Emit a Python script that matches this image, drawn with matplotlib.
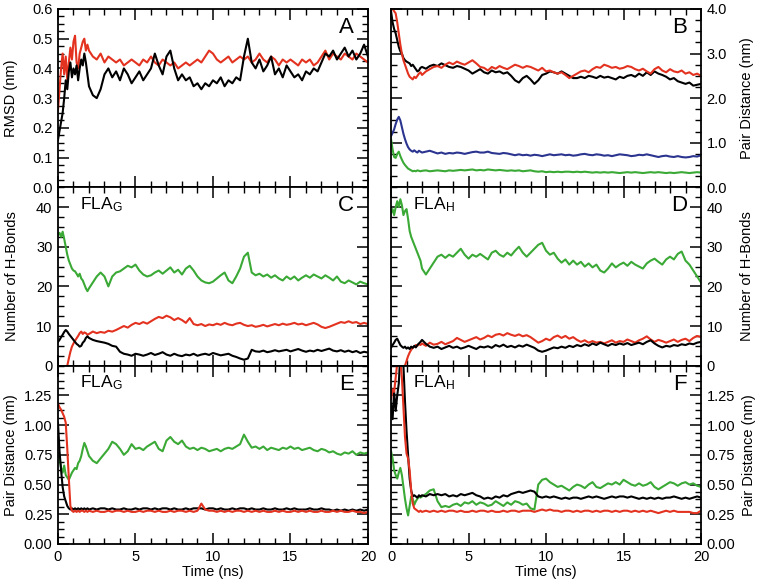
import numpy as np
import matplotlib
matplotlib.use('Agg')
import matplotlib.pyplot as plt
from matplotlib.ticker import MultipleLocator, FormatStrFormatter

plt.rcParams['font.family'] = ['Liberation Sans', 'DejaVu Sans']
plt.rcParams['font.size'] = 10

# ============================================
# DATOS
# ============================================

# eje de tiempo: 0-1.9 ns cada 0.1, 2-20 ns cada 0.25
time_ns = np.concatenate([np.round(np.arange(0, 2.0, 0.1), 2),
                          np.arange(2.0, 20.001, 0.25)])
nan = np.nan

# Panel A: RMSD (nm)
rmsd_black = [0.16, 0.19, 0.22, 0.25, 0.30, 0.36, 0.33, 0.39, 0.42, 0.37,
              0.40, 0.38, 0.41, 0.36, 0.40, 0.43, 0.41, 0.45, 0.42, 0.38,
              0.34, 0.31, 0.30, 0.33,
              0.38, 0.40, 0.37, 0.39,
              0.36, 0.40, 0.38, 0.35,
              0.37, 0.39, 0.36, 0.38,
              0.40, 0.45, 0.41, 0.38,
              0.44, 0.46, 0.40, 0.36,
              0.38, 0.36, 0.37, 0.34,
              0.35, 0.33, 0.35, 0.34,
              0.36, 0.35, 0.37, 0.34,
              0.36, 0.35, 0.37, 0.36,
              0.44, 0.50, 0.42, 0.40,
              0.43, 0.39, 0.41, 0.44,
              0.38, 0.40, 0.37, 0.41,
              0.39, 0.37, 0.38, 0.36,
              0.39, 0.38, 0.40, 0.39,
              0.42, 0.45, 0.44, 0.46,
              0.43, 0.45, 0.47, 0.44,
              0.46, 0.43, 0.45, 0.48,
              0.44]
rmsd_red = [0.26, 0.33, 0.40, 0.45, 0.38, 0.44, 0.36, 0.42, 0.47, 0.43,
            0.49, 0.51, 0.42, 0.40, 0.45, 0.47, 0.49, 0.50, 0.46, 0.48,
            0.46, 0.44, 0.43, 0.45,
            0.42, 0.44, 0.43, 0.42,
            0.43, 0.41, 0.42, 0.43,
            0.42, 0.41, 0.43, 0.42,
            0.44, 0.42, 0.41, 0.43,
            0.42, 0.41, 0.42, 0.40,
            0.41, 0.42, 0.41, 0.42,
            0.43, 0.42, 0.44, 0.46,
            0.45, 0.43, 0.42, 0.43,
            0.44, 0.42, 0.43, 0.44,
            0.43, 0.44, 0.42, 0.43,
            0.45, 0.43, 0.42, 0.44,
            0.43, 0.41, 0.43, 0.42,
            0.43, 0.42, 0.41, 0.43,
            0.42, 0.43, 0.41, 0.42,
            0.44, 0.46, 0.43, 0.45,
            0.44, 0.43, 0.45, 0.44,
            0.43, 0.45, 0.44, 0.43,
            0.42]

# Panel B: distancia de pares (nm)
distB_black = [3.95, 3.70, 3.55, 3.45, 3.30, 3.15, 3.05, 3.00, 2.90, 2.85,
               2.82, 2.80, 2.78, 2.72, 2.75, 2.70, 2.65, 2.60, 2.62, 2.68,
               2.70, 2.66, 2.72, 2.75,
               2.72, 2.78, 2.74, 2.70,
               2.68, 2.72, 2.70, 2.66,
               2.62, 2.55, 2.60, 2.65,
               2.58, 2.55, 2.62, 2.58,
               2.60, 2.55, 2.58, 2.50,
               2.40, 2.35, 2.45, 2.50,
               2.42, 2.32, 2.40, 2.52,
               2.55, 2.60, 2.58, 2.55,
               2.60, 2.55, 2.50, 2.45,
               2.45, 2.48, 2.45, 2.50,
               2.48, 2.45, 2.50, 2.46,
               2.48, 2.45, 2.42, 2.48,
               2.45, 2.50, 2.52, 2.48,
               2.55, 2.50, 2.58, 2.52,
               2.60, 2.55, 2.52, 2.48,
               2.42, 2.45, 2.38, 2.35,
               2.32, 2.35, 2.28, 2.30,
               2.32]
distB_red = [4.05, 4.00, 3.95, 3.90, 3.70, 3.45, 3.20, 3.00, 2.85, 2.75,
             2.65, 2.55, 2.48, 2.45, 2.42, 2.48, 2.45, 2.50, 2.55, 2.58,
             2.52, 2.60, 2.65, 2.70,
             2.72, 2.68, 2.75, 2.80,
             2.76, 2.82, 2.78, 2.75,
             2.80, 2.85, 2.78, 2.70,
             2.68, 2.62, 2.70, 2.66,
             2.72, 2.68, 2.65, 2.70,
             2.75, 2.72, 2.68, 2.72,
             2.70, 2.66, 2.62, 2.68,
             2.60, 2.62, 2.58, 2.55,
             2.58, 2.52, 2.45, 2.50,
             2.55, 2.60, 2.62, 2.58,
             2.65, 2.70, 2.68, 2.75,
             2.72, 2.68, 2.70, 2.66,
             2.68, 2.72, 2.70, 2.65,
             2.62, 2.66, 2.60, 2.55,
             2.65, 2.70, 2.62, 2.58,
             2.65, 2.60, 2.58, 2.62,
             2.55, 2.58, 2.52, 2.55,
             2.50]
distB_blue = [1.15, 1.22, 1.30, 1.42, 1.52, 1.58, 1.50, 1.35, 1.20, 1.08,
              0.98, 0.90, 0.85, 0.82, 0.80, 0.83, 0.80, 0.78, 0.82, 0.80,
              0.78, 0.80, 0.82, 0.79,
              0.76, 0.78, 0.75, 0.77,
              0.76, 0.78, 0.77, 0.75,
              0.77, 0.79, 0.80, 0.78,
              0.78, 0.80, 0.77, 0.76,
              0.75, 0.77, 0.76, 0.74,
              0.72, 0.74, 0.72, 0.73,
              0.71, 0.73, 0.72, 0.70,
              0.72, 0.74, 0.72, 0.73,
              0.74, 0.72, 0.73, 0.71,
              0.72, 0.74, 0.75, 0.73,
              0.72, 0.74, 0.73, 0.71,
              0.72, 0.70, 0.72, 0.74,
              0.73, 0.72, 0.70, 0.71,
              0.73, 0.72, 0.74, 0.72,
              0.70, 0.68, 0.70, 0.71,
              0.69, 0.68, 0.70, 0.68,
              0.67, 0.68, 0.70, 0.69,
              0.72]
distB_green = [1.08, 0.85, 0.68, 0.66, 0.75, 0.80, 0.70, 0.62, 0.55, 0.50,
               0.46, 0.42, 0.40, 0.38, 0.36, 0.37, 0.36, 0.38, 0.37, 0.36,
               0.37, 0.38, 0.36, 0.37,
               0.38, 0.37, 0.36, 0.38,
               0.37, 0.38, 0.39, 0.38,
               0.39, 0.40, 0.38, 0.39,
               0.38, 0.40, 0.39, 0.38,
               0.39, 0.38, 0.37, 0.38,
               0.37, 0.38, 0.36, 0.37,
               0.38, 0.36, 0.35, 0.36,
               0.34, 0.35, 0.34, 0.35,
               0.34, 0.35, 0.35, 0.34,
               0.35, 0.34, 0.35, 0.34,
               0.33, 0.34, 0.33, 0.34,
               0.33, 0.34, 0.33, 0.32,
               0.33, 0.34, 0.33, 0.34,
               0.33, 0.32, 0.33, 0.34,
               0.33, 0.34, 0.33, 0.32,
               0.33, 0.32, 0.33, 0.34,
               0.33, 0.32, 0.33, 0.34,
               0.33]

# Panel C: puentes de hidrógeno FLA_G
hbC_green = [33.0, 33.5, 32.5, 33.8, 32.0, 30.0, 28.0, 26.5, 25.5, 24.5,
             24.0, 23.8, 23.2, 22.5, 23.2, 22.0, 21.5, 20.5, 19.5, 18.8,
             19.5, 21.0, 22.5, 23.5,
             22.5, 20.0, 22.5, 23.5,
             23.8, 24.5, 25.2, 24.8,
             25.5, 24.0, 23.0, 22.5,
             22.8, 23.5, 24.0, 23.2,
             24.0, 24.8, 23.5, 24.2,
             23.0, 24.5, 25.2, 24.0,
             22.5, 21.5, 21.0, 20.8,
             21.2, 22.0, 22.8, 23.5,
             21.5, 20.8, 22.5, 24.5,
             27.5, 28.5, 23.5, 22.8,
             23.2, 22.5, 23.0, 22.2,
             22.8, 22.0, 21.5, 22.5,
             21.8, 22.5, 21.5, 22.2,
             22.8, 22.2, 23.0, 22.5,
             22.0, 22.8, 22.2, 21.5,
             22.5, 21.2, 20.8, 21.5,
             21.0, 20.5, 21.2, 20.8,
             20.5]
hbC_red = [nan, nan, nan, nan, nan, nan, 0.0, 1.8, 3.5, 4.8,
           5.6, 6.3, 6.9, 7.5, 8.2, 8.6, 8.0, 8.4, 8.2, 7.8,
           8.0, 8.6, 8.2, 8.5,
           8.3, 8.8, 8.6, 9.0,
           9.5, 10.0, 9.6, 10.3,
           10.8, 10.5, 11.0, 10.6,
           11.2, 11.8, 12.3, 12.0,
           12.6, 12.2, 11.5, 12.0,
           11.5, 10.8, 12.0, 10.5,
           10.2, 10.5, 10.0, 10.4,
           10.2, 10.6, 10.3, 10.8,
           10.4, 10.2, 10.6, 10.8,
           10.3, 10.0, 10.2, 9.8,
           10.0, 10.3, 9.9, 10.2,
           10.5, 10.2, 10.6, 10.3,
           10.5, 10.8, 10.4, 10.6,
           10.2, 10.5, 10.8, 10.4,
           9.8, 9.5, 9.8, 10.2,
           10.6, 11.0, 10.8, 11.2,
           10.8, 11.0, 10.5, 10.8,
           10.5]
hbC_black = [6.0, 6.5, 7.2, 7.8, 8.5, 9.0, 8.6, 8.0, 7.5, 7.0,
             6.5, 6.0, 5.5, 5.2, 4.8, 5.0, 5.8, 6.2, 7.0, 7.4,
             7.0, 6.5, 6.2, 6.0,
             5.8, 5.5, 5.0, 4.8,
             3.5, 3.0, 2.8, 2.5,
             3.0, 2.8, 2.5, 2.8,
             3.2, 2.7, 3.0, 3.4,
             2.8, 2.5, 3.0, 2.6,
             2.4, 2.8, 2.6, 3.0,
             2.5, 2.8, 3.0, 2.7,
             3.2, 2.9, 2.6, 2.8,
             3.0, 2.5, 2.2, 1.8,
             1.5, 1.8, 4.0, 3.6,
             3.5, 3.8, 3.4, 3.6,
             3.9, 3.6, 3.8, 4.0,
             3.6, 3.9, 4.2, 3.8,
             3.5, 3.8, 3.6, 4.0,
             3.7, 4.0, 4.3, 3.8,
             3.6, 3.9, 3.5, 3.8,
             3.4, 3.7, 3.2, 3.5,
             3.3]

# Panel D: puentes de hidrógeno FLA_H
hbD_green = [38.5, 39.5, 38.0, 40.0, 41.5, 40.0, 42.0, 40.5, 38.0, 39.0,
             39.5, 37.0, 34.0, 32.5, 31.5, 30.5, 29.5, 28.5, 27.5, 26.5,
             24.5, 23.0, 24.5, 26.0,
             27.5, 28.0, 27.2, 28.0,
             27.5, 28.5, 29.5, 28.0,
             27.0, 28.0, 27.5, 28.2,
             27.5, 26.8, 28.5, 29.0,
             28.0, 27.5, 28.5, 27.8,
             29.0, 30.0, 28.5, 27.5,
             28.5, 29.5, 30.5, 31.0,
             29.0, 28.0, 28.5, 27.0,
             26.0, 26.8, 25.5, 26.5,
             25.5, 26.2, 25.0, 25.8,
             24.8, 25.5, 24.0, 23.5,
             24.5, 25.8, 24.8, 25.5,
             26.0, 25.2, 26.2, 25.5,
             25.0, 24.5, 25.8, 26.5,
             27.0, 26.2, 25.5, 26.8,
             27.5, 26.8, 28.2, 28.8,
             26.5, 25.5, 24.0, 22.5,
             21.0]
hbD_red = [nan, nan, nan, nan, nan, nan, nan, nan, nan, 0.0,
           1.2, 2.4, 3.3, 4.0, 4.5, 4.8, 5.2, 5.0, 5.5, 5.2,
           5.6, 5.0, 5.8, 5.3,
           5.5, 6.0, 5.4, 5.8,
           6.2, 7.0, 6.5, 6.0,
           6.4, 6.8, 7.2, 6.6,
           7.0, 7.6, 7.2, 7.8,
           8.0, 7.6, 8.2, 7.8,
           7.5, 7.9, 7.4, 7.7,
           7.2, 6.5, 5.8, 6.2,
           6.8, 6.4, 7.2, 7.6,
           7.0, 7.5, 6.8, 7.2,
           6.5, 6.0, 6.4, 5.8,
           6.2, 5.8, 6.0, 5.6,
           6.0, 6.4, 5.8, 6.2,
           6.0, 6.6, 6.2, 5.8,
           6.4, 6.8, 7.4, 6.6,
           6.0, 6.5, 6.2, 5.8,
           6.2, 6.6, 6.0, 6.5,
           6.8, 6.2, 7.0, 7.5,
           7.2]
hbD_black = [4.5, 5.2, 5.8, 6.5, 6.8, 6.0, 5.2, 4.8, 4.5, 4.8,
             4.3, 4.6, 4.2, 4.8, 4.5, 5.0, 4.6, 5.2, 5.6, 6.0,
             6.5, 5.5, 4.8, 4.5,
             4.8, 4.2, 4.6, 5.0,
             4.5, 4.8, 4.3, 4.6,
             5.0, 4.6, 4.2, 4.8,
             4.6, 4.9, 4.5, 5.2,
             4.8, 5.3, 4.7, 5.0,
             4.6, 5.1, 4.8, 5.3,
             4.9, 4.5, 3.8, 3.5,
             3.8, 4.2, 4.6, 4.4,
             4.8, 4.5, 5.0, 4.7,
             5.2, 4.9, 5.4, 5.0,
             5.6, 5.2, 5.8, 5.4,
             5.0, 5.5, 5.2, 5.6,
             5.3, 5.7, 5.2, 5.5,
             5.8, 5.4, 6.0, 6.4,
             5.6, 5.0, 4.6, 5.0,
             4.8, 5.2, 5.0, 5.4,
             5.2, 5.6, 5.4, 5.8,
             6.0]

# Panel E: distancia de pares FLA_G (nm)
distE_black = [1.02, 0.78, 0.62, 0.48, 0.40, 0.36, 0.32, 0.30, 0.29, 0.30,
               0.29, 0.30, 0.29, 0.30, 0.29, 0.30, 0.29, 0.30, 0.29, 0.30,
               0.29, 0.30, 0.29, 0.30,
               0.30, 0.29, 0.30, 0.29,
               0.29, 0.30, 0.29, 0.29,
               0.30, 0.29, 0.30, 0.30,
               0.29, 0.30, 0.29, 0.30,
               0.30, 0.29, 0.30, 0.29,
               0.29, 0.30, 0.29, 0.30,
               0.30, 0.30, 0.29, 0.30,
               0.30, 0.29, 0.30, 0.29,
               0.29, 0.30, 0.29, 0.30,
               0.30, 0.29, 0.30, 0.29,
               0.29, 0.30, 0.29, 0.29,
               0.30, 0.29, 0.29, 0.30,
               0.29, 0.30, 0.29, 0.29,
               0.29, 0.30, 0.29, 0.29,
               0.30, 0.29, 0.29, 0.28,
               0.29, 0.28, 0.29, 0.28,
               0.29, 0.28, 0.29, 0.28,
               0.29]
distE_red = [1.18, 1.15, 1.13, 1.10, 1.07, 1.02, 0.80, 0.55, 0.32, 0.28,
             0.27, 0.28, 0.27, 0.28, 0.27, 0.28, 0.28, 0.27, 0.28, 0.27,
             0.28, 0.27, 0.28, 0.27,
             0.27, 0.28, 0.27, 0.28,
             0.28, 0.27, 0.28, 0.27,
             0.27, 0.28, 0.27, 0.28,
             0.28, 0.27, 0.28, 0.27,
             0.27, 0.28, 0.27, 0.28,
             0.28, 0.27, 0.28, 0.27,
             0.28, 0.34, 0.29, 0.28,
             0.28, 0.27, 0.28, 0.27,
             0.28, 0.27, 0.28, 0.28,
             0.27, 0.28, 0.27, 0.28,
             0.27, 0.28, 0.27, 0.27,
             0.28, 0.27, 0.28, 0.27,
             0.27, 0.28, 0.27, 0.28,
             0.27, 0.28, 0.27, 0.27,
             0.28, 0.27, 0.27, 0.28,
             0.27, 0.28, 0.27, 0.27,
             0.28, 0.27, 0.27, 0.26,
             0.27]
distE_green = [0.76, 0.72, 0.64, 0.60, 0.66, 0.58, 0.56, 0.54, 0.57, 0.60,
               0.62, 0.64, 0.63, 0.68, 0.70, 0.74, 0.80, 0.85, 0.82, 0.78,
               0.74, 0.70, 0.68, 0.72,
               0.76, 0.80, 0.86, 0.84,
               0.80, 0.75, 0.78, 0.84,
               0.80, 0.81, 0.79, 0.82,
               0.84, 0.86, 0.80, 0.78,
               0.87, 0.90, 0.86, 0.84,
               0.87, 0.82, 0.80, 0.81,
               0.79, 0.81, 0.80, 0.78,
               0.79, 0.80, 0.78, 0.80,
               0.81, 0.80, 0.82, 0.84,
               0.92, 0.86, 0.81, 0.82,
               0.80, 0.82, 0.79, 0.81,
               0.80, 0.79, 0.81, 0.80,
               0.82, 0.80, 0.81, 0.79,
               0.80, 0.81, 0.79, 0.78,
               0.80, 0.79, 0.77, 0.78,
               0.76, 0.75, 0.77, 0.76,
               0.78, 0.75, 0.77, 0.76,
               0.77]

# Panel F: distancia de pares FLA_H (nm)
distF_black = [1.18, 1.05, 1.28, 1.12, 1.25, 1.35, 1.60, 1.65, 1.50, 1.20,
               0.95, 0.75, 0.55, 0.45, 0.40, 0.41, 0.40, 0.39, 0.41, 0.40,
               0.41, 0.40, 0.42, 0.41,
               0.42, 0.41, 0.42, 0.40,
               0.41, 0.40, 0.42, 0.41,
               0.42, 0.43, 0.41, 0.40,
               0.38, 0.39, 0.38, 0.40,
               0.39, 0.41, 0.40, 0.42,
               0.43, 0.44, 0.43, 0.44,
               0.45, 0.44, 0.40, 0.39,
               0.40, 0.39, 0.40, 0.39,
               0.38, 0.39, 0.38, 0.39,
               0.39, 0.38, 0.39, 0.40,
               0.39, 0.40, 0.39, 0.38,
               0.39, 0.40, 0.39, 0.40,
               0.40, 0.39, 0.40, 0.39,
               0.38, 0.39, 0.38, 0.39,
               0.38, 0.39, 0.38, 0.39,
               0.39, 0.40, 0.39, 0.38,
               0.39, 0.38, 0.39, 0.40,
               0.39]
distF_red = [1.22, 1.30, 1.28, 1.40, 1.52, 1.58, 1.55, 1.40, 1.15, 0.90,
             0.76, 0.72, 0.62, 0.45, 0.34, 0.30, 0.29, 0.28, 0.27, 0.28,
             0.27, 0.28, 0.27, 0.28,
             0.27, 0.28, 0.27, 0.28,
             0.28, 0.27, 0.28, 0.27,
             0.27, 0.28, 0.27, 0.28,
             0.28, 0.27, 0.28, 0.27,
             0.27, 0.28, 0.27, 0.28,
             0.28, 0.27, 0.28, 0.28,
             0.28, 0.27, 0.28, 0.29,
             0.28, 0.29, 0.28, 0.28,
             0.27, 0.28, 0.28, 0.27,
             0.28, 0.27, 0.28, 0.28,
             0.27, 0.28, 0.27, 0.28,
             0.28, 0.27, 0.28, 0.27,
             0.28, 0.28, 0.27, 0.28,
             0.27, 0.28, 0.27, 0.28,
             0.27, 0.26, 0.27, 0.28,
             0.27, 0.28, 0.27, 0.27,
             0.27, 0.27, 0.26, 0.26,
             0.28]
distF_green = [0.78, 0.72, 0.62, 0.58, 0.55, 0.60, 0.64, 0.58, 0.48, 0.38,
               0.30, 0.24, 0.32, 0.40, 0.38, 0.33, 0.36, 0.38, 0.40, 0.39,
               0.40, 0.42, 0.45, 0.46,
               0.36, 0.31, 0.32, 0.31,
               0.33, 0.34, 0.32, 0.35,
               0.34, 0.36, 0.33, 0.35,
               0.34, 0.32, 0.33, 0.36,
               0.34, 0.32, 0.35, 0.33,
               0.36, 0.35, 0.33, 0.34,
               0.30, 0.29, 0.50, 0.54,
               0.55, 0.52, 0.50, 0.48,
               0.49, 0.47, 0.45, 0.48,
               0.50, 0.49, 0.47, 0.50,
               0.52, 0.48, 0.47, 0.49,
               0.51, 0.50, 0.52, 0.50,
               0.54, 0.52, 0.50, 0.49,
               0.51, 0.49, 0.50, 0.52,
               0.48, 0.46, 0.48, 0.50,
               0.52, 0.51, 0.49, 0.51,
               0.52, 0.50, 0.51, 0.49,
               0.48]

# ============================================
# ESTILO
# ============================================

C_BLACK = '#000000'
C_RED = '#e3321f'
C_GREEN = '#3aa935'
C_BLUE = '#2b3590'
LW = 1.5

fig = plt.figure(figsize=(7.59, 5.83), dpi=100)

left_x, right_x, ax_w = 0.0764, 0.5152, 0.4084
ax_h = 0.3059
rows_y = [0.0669 + 2 * ax_h, 0.0669 + ax_h, 0.0669]

axA = fig.add_axes([left_x, rows_y[0], ax_w, ax_h])
axB = fig.add_axes([right_x, rows_y[0], ax_w, ax_h])
axC = fig.add_axes([left_x, rows_y[1], ax_w, ax_h])
axD = fig.add_axes([right_x, rows_y[1], ax_w, ax_h])
axE = fig.add_axes([left_x, rows_y[2], ax_w, ax_h])
axF = fig.add_axes([right_x, rows_y[2], ax_w, ax_h])


def estilo(ax, lado_der, abajo):
    ax.set_xlim(0, 20)
    ax.xaxis.set_major_locator(MultipleLocator(5))
    ax.xaxis.set_minor_locator(MultipleLocator(1))
    ax.tick_params(which='both', direction='in', top=True, bottom=True,
                   left=True, right=True, labelsize=10.5)
    ax.tick_params(which='major', length=8, width=1.1, pad=4)
    ax.tick_params(which='minor', length=4.5, width=1.0)
    for s in ax.spines.values():
        s.set_linewidth(1.3)
    if lado_der:
        ax.tick_params(labelleft=False, labelright=True)
        ax.yaxis.set_label_position('right')
    if abajo:
        ax.set_xlabel('Time (ns)', fontsize=10.5, labelpad=1)
    else:
        ax.tick_params(labelbottom=False)


# Panel A
axA.plot(time_ns, rmsd_red, color=C_RED, lw=LW)
axA.plot(time_ns, rmsd_black, color=C_BLACK, lw=LW)
axA.set_ylim(0, 0.6)
axA.yaxis.set_major_locator(MultipleLocator(0.1))
axA.yaxis.set_minor_locator(MultipleLocator(0.025))
axA.yaxis.set_major_formatter(FormatStrFormatter('%.1f'))
axA.set_ylabel('RMSD (nm)', fontsize=10.5, labelpad=10)
estilo(axA, False, False)

# Panel B
axB.plot(time_ns, distB_black, color=C_BLACK, lw=LW)
axB.plot(time_ns, distB_red, color=C_RED, lw=LW)
axB.plot(time_ns, distB_blue, color=C_BLUE, lw=LW)
axB.plot(time_ns, distB_green, color=C_GREEN, lw=LW)
axB.set_ylim(0, 4.0)
axB.yaxis.set_major_locator(MultipleLocator(1.0))
axB.yaxis.set_minor_locator(MultipleLocator(0.25))
axB.yaxis.set_major_formatter(FormatStrFormatter('%.1f'))
axB.set_ylabel('Pair Distance (nm)', fontsize=10.5, labelpad=9)
estilo(axB, True, False)

# Panel C
axC.plot(time_ns, hbC_green, color=C_GREEN, lw=LW)
axC.plot(time_ns, hbC_red, color=C_RED, lw=LW)
axC.plot(time_ns, hbC_black, color=C_BLACK, lw=LW)
axC.set_ylim(0, 45)
axC.set_yticks([0, 10, 20, 30, 40])
axC.yaxis.set_minor_locator(MultipleLocator(2.5))
axC.set_ylabel('Number of H-Bonds', fontsize=10.5, labelpad=12)
estilo(axC, False, False)

# Panel D
axD.plot(time_ns, hbD_green, color=C_GREEN, lw=LW)
axD.plot(time_ns, hbD_red, color=C_RED, lw=LW)
axD.plot(time_ns, hbD_black, color=C_BLACK, lw=LW)
axD.set_ylim(0, 45)
axD.set_yticks([0, 10, 20, 30, 40])
axD.yaxis.set_minor_locator(MultipleLocator(2.5))
axD.set_ylabel('Number of H-Bonds', fontsize=10.5, labelpad=12)
estilo(axD, True, False)

# Panel E
axE.plot(time_ns, distE_green, color=C_GREEN, lw=LW)
axE.plot(time_ns, distE_black, color=C_BLACK, lw=LW)
axE.plot(time_ns, distE_red, color=C_RED, lw=LW)
axE.set_ylim(0, 1.5)
axE.set_yticks([0, 0.25, 0.5, 0.75, 1.0, 1.25])
axE.yaxis.set_minor_locator(MultipleLocator(0.0625))
axE.yaxis.set_major_formatter(FormatStrFormatter('%.2f'))
axE.set_ylabel('Pair Distance (nm)', fontsize=10.5)
estilo(axE, False, True)

# Panel F
axF.plot(time_ns, distF_green, color=C_GREEN, lw=LW)
axF.plot(time_ns, distF_black, color=C_BLACK, lw=LW)
axF.plot(time_ns, distF_red, color=C_RED, lw=LW)
axF.set_ylim(0, 1.5)
axF.set_yticks([0, 0.25, 0.5, 0.75, 1.0, 1.25])
axF.yaxis.set_minor_locator(MultipleLocator(0.0625))
axF.yaxis.set_major_formatter(FormatStrFormatter('%.2f'))
axF.set_ylabel('Pair Distance (nm)', fontsize=10.5, labelpad=5)
estilo(axF, True, True)

# letras de panel y etiquetas FLA
for ax, letra in zip([axA, axB, axC, axD, axE, axF], 'ABCDEF'):
    ax.text(0.955, 0.955, letra, transform=ax.transAxes, ha='right',
            va='top', fontsize=16)
for ax, sub in zip([axC, axD, axE, axF], ['G', 'H', 'G', 'H']):
    ax.text(0.072, 0.955, r'$\mathregular{FLA_%s}$' % sub,
            transform=ax.transAxes, ha='left', va='top', fontsize=12.5)

fig.savefig('out.png', dpi=100)
